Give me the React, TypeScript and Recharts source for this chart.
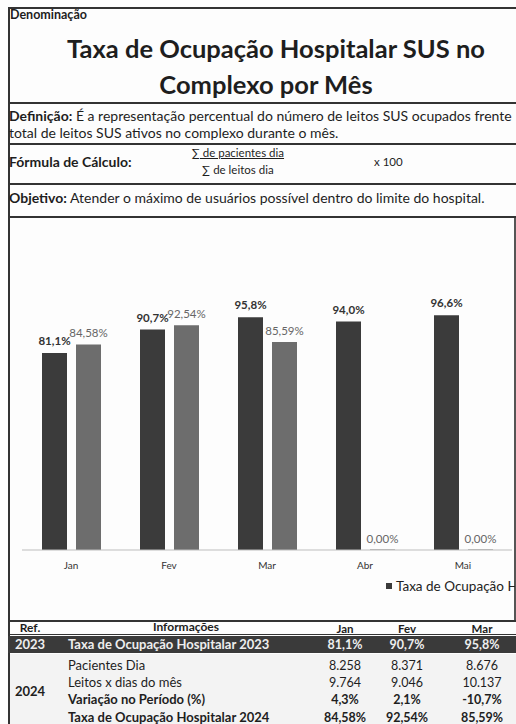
import { BarChart, Bar, XAxis, YAxis, LabelList } from "recharts";

const months = ["Jan", "Fev", "Mar", "Abr", "Mai"];
const taxa2023 = [81.1, 90.7, 95.8, 94.0, 96.6];
const taxa2024 = [84.58, 92.54, 85.59, 0, 0];

const tableMonths = ["Jan", "Fev", "Mar"];
const pacientesDia = [8258, 8371, 8676];
const leitosDias = [9764, 9046, 10137];
const variacao = [4.3, 2.1, -10.7];

const DARK = "#3b3b3b";
const LIGHT = "#6d6d6d";
const INK = "#1e1e1e";
const FONT = "Lato, 'Open Sans', sans-serif";

const pct = (v: number, d: number) => v.toFixed(d).replace(".", ",") + "%";
const thousands = (v: number) =>
  String(v).replace(/\B(?=(\d{3})+(?!\d))/g, ".");

const chartData = months.map((m, i) => ({
  month: m,
  t2023: taxa2023[i],
  t2024: taxa2024[i],
}));

const colCenters = [345, 407, 482];

function HLine({ y, w = 1.5 }: { y: number; w?: number }) {
  return (
    <div
      style={{
        position: "absolute",
        left: 8,
        top: y,
        width: 508,
        height: w,
        background: "#333",
      }}
    />
  );
}

function Txt({
  x,
  y,
  children,
  size = 14,
  bold = false,
  color = INK,
  center = false,
  w,
}: {
  x: number;
  y: number;
  children: React.ReactNode;
  size?: number;
  bold?: boolean;
  color?: string;
  center?: boolean;
  w?: number;
}) {
  return (
    <div
      style={{
        position: "absolute",
        left: center ? x - (w ?? 200) / 2 : x,
        top: y - size * 0.575,
        width: center ? w ?? 200 : undefined,
        textAlign: center ? "center" : "left",
        fontSize: size,
        fontWeight: bold ? 700 : 400,
        color,
        whiteSpace: "nowrap",
        lineHeight: `${size * 1.15}px`,
      }}
    >
      {children}
    </div>
  );
}

export default function App() {
  const rows2024 = [
    { label: "Pacientes Dia", bold: false, vals: pacientesDia.map(thousands), y: 665 },
    { label: "Leitos x dias do mês", bold: false, vals: leitosDias.map(thousands), y: 682 },
    { label: "Variação no Período (%)", bold: true, vals: variacao.map((v) => pct(v, 1)), y: 699 },
    {
      label: "Taxa de Ocupação Hospitalar 2024",
      bold: true,
      vals: taxa2024.slice(0, 3).map((v) => pct(v, 2)),
      y: 717,
    },
  ];

  return (
    <div
      style={{
        position: "absolute",
        left: 0,
        top: 0,
        width: 516,
        height: 724,
        overflow: "hidden",
        background: "#fdfdfd",
        fontFamily: FONT,
        color: INK,
      }}
    >
      {/* frame */}
      <div style={{ position: "absolute", left: 8, top: 7, width: 1.5, height: 724, background: "#333" }} />
      <div style={{ position: "absolute", left: 514, top: 216, width: 1.5, height: 404, background: "#555" }} />
      <HLine y={7} w={2} />
      <HLine y={102} />
      <HLine y={143} />
      <HLine y={183} />
      <HLine y={216} />
      <HLine y={620} />

      <Txt x={10} y={15} size={12.5} bold>
        Denominação
      </Txt>
      <Txt x={276} y={49} size={25.5} bold center w={510}>
        Taxa de Ocupação Hospitalar SUS no
      </Txt>
      <Txt x={266} y={85} size={25.5} bold center w={510}>
        Complexo por Mês
      </Txt>

      <Txt x={9} y={116.5} size={14}>
        <b>Definição:</b> É a representação percentual do número de leitos SUS ocupados frente
      </Txt>
      <Txt x={9} y={133} size={14}>
        total de leitos SUS ativos no complexo durante o mês.
      </Txt>

      <Txt x={9} y={162} size={14} bold>
        Fórmula de Cálculo:
      </Txt>
      <Txt x={238} y={153} size={11.5} center w={160}>
        <span style={{ textDecoration: "underline" }}>∑ de pacientes dia</span>
      </Txt>
      <Txt x={238} y={170} size={11.5} center w={160}>
        <span style={{ textDecoration: "underline" }}>∑</span> de leitos dia
      </Txt>
      <Txt x={374} y={162} size={11.5}>
        x 100
      </Txt>

      <Txt x={9} y={198} size={14}>
        <b>Objetivo:</b> Atender o máximo de usuários possível dentro do limite do hospital.
      </Txt>

      {/* chart */}
      <div style={{ position: "absolute", left: 8, top: 216, width: 507, height: 404, overflow: "hidden" }}>
        <BarChart
          width={507}
          height={404}
          data={chartData}
          margin={{ top: 91, right: 3, left: 14, bottom: 40 }}
          barGap={9}
        >
          <XAxis
            dataKey="month"
            height={30}
            tickLine={false}
            axisLine={{ stroke: "#bdbdbd", strokeWidth: 1 }}
            tick={{ fontSize: 10, fill: "#333", fontFamily: FONT }}
            tickMargin={6}
          />
          <YAxis hide domain={[0, 100]} />
          <Bar dataKey="t2023" fill={DARK} barSize={25} isAnimationActive={false}>
            <LabelList
              dataKey="t2023"
              position="top"
              offset={8}
              formatter={(v: number) => pct(v, 1)}
              style={{ fontSize: 11.5, fontWeight: 700, fill: "#333", fontFamily: FONT }}
            />
          </Bar>
          <Bar dataKey="t2024" fill={LIGHT} barSize={25} minPointSize={0.5} isAnimationActive={false}>
            <LabelList
              dataKey="t2024"
              position="top"
              offset={7}
              formatter={(v: number) => pct(v, 2)}
              style={{ fontSize: 11.5, fill: "#666", fontFamily: FONT }}
            />
          </Bar>
        </BarChart>
        <div
          style={{
            position: "absolute",
            left: 378,
            top: 362,
            whiteSpace: "nowrap",
            fontSize: 13.5,
            color: "#222",
            display: "flex",
            alignItems: "center",
          }}
        >
          <span style={{ display: "inline-block", width: 6, height: 6, background: DARK, marginRight: 4 }} />
          Taxa de Ocupação Hospitalar 2023
          <span style={{ display: "inline-block", width: 6, height: 6, background: LIGHT, margin: "0 4px 0 14px" }} />
          Taxa de Ocupação Hospitalar 2024
        </div>
      </div>

      {/* table */}
      <Txt x={30} y={628} size={12} bold center w={40}>
        Ref.
      </Txt>
      <Txt x={186} y={627} size={12} bold center w={140}>
        Informações
      </Txt>
      {tableMonths.map((m, i) => (
        <Txt key={m} x={colCenters[i]} y={629} size={11.5} bold center w={60}>
          {m}
        </Txt>
      ))}
      <HLine y={634} w={1} />

      <div style={{ position: "absolute", left: 8, top: 636, width: 508, height: 17, background: "#3a3a3a" }} />
      <Txt x={30} y={644} size={13} bold color="#eee" center w={40}>
        2023
      </Txt>
      <Txt x={68} y={644} size={13} bold color="#eee">
        Taxa de Ocupação Hospitalar 2023
      </Txt>
      {taxa2023.slice(0, 3).map((v, i) => (
        <Txt key={i} x={colCenters[i]} y={645} size={12.5} bold color="#eee" center w={60}>
          {pct(v, 1)}
        </Txt>
      ))}

      <div style={{ position: "absolute", left: 9.5, top: 654, width: 507, height: 70, background: "#f3f3f3" }} />
      <Txt x={30} y={691} size={13} bold center w={40}>
        2024
      </Txt>
      {rows2024.map((r) => (
        <div key={r.label}>
          <Txt x={68} y={r.y} size={13} bold={r.bold}>
            {r.label}
          </Txt>
          {r.vals.map((v, i) => (
            <Txt key={i} x={colCenters[i]} y={r.y + 1} size={12.5} bold={r.bold} center w={60}>
              {v}
            </Txt>
          ))}
        </div>
      ))}
    </div>
  );
}
